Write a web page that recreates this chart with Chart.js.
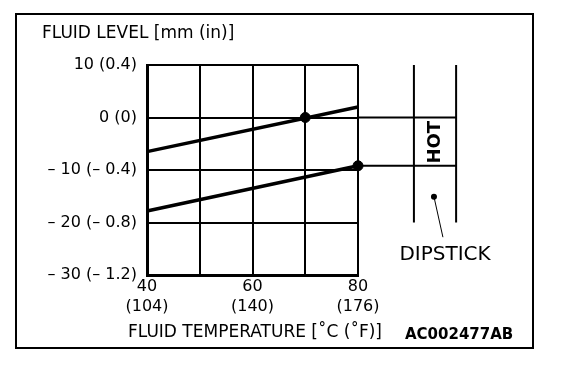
<!DOCTYPE html>
<html>

<head>
    <meta charset="utf-8">
    <title>Fluid level</title>
    <script src="https://cdn.jsdelivr.net/npm/chart.js@4.4.0/dist/chart.umd.min.js"></script>
    <style>
        body { margin: 0; background: #fff; }
    </style>
</head>

<body>
    <canvas id="myChart" width="576" height="370"></canvas>
    <script>
        // tick labels
        const tempTicksC = [40, 60, 80];
        const tempTicksF = ['(104)', '(140)', '(176)'];
        const levelTicks = [10, 0, -10, -20, -30];
        const levelTickLabels = ['10 (0.4)', '0 (0)', '\u2013 10 (\u2013 0.4)', '\u2013 20 (\u2013 0.8)', '\u2013 30 (\u2013 1.2)'];

        // upper line
        const upperTemps = [40, 80];
        const upperLevels = [-6.5, 2.0];
        // lower line
        const lowerTemps = [40, 80];
        const lowerLevels = [-17.8, -9.2];
        // marked points
        const dotTemps = [70, 80];
        const dotLevels = [0, -9.2];

        // dipstick sketch, same units as the chart (degC / mm)
        const stickX = [90.6, 98.6];
        const stickY = [10, -20];
        const hotLevels = [0, -9.2];
        const leaderX = [94.4, 96.1];
        const leaderY = [-15.1, -22.8];
        const hotLabelAt = [94.6, -4.7];
        const stickLabelAt = [96.5, -27.1];

        const FONT = 'DejaVu Sans';
        Chart.defaults.color = '#000';
        Chart.defaults.font.family = FONT;

        function seg(xs, ys) {
            return xs.map((x, i) => ({ x: x, y: ys[i] }));
        }
        function plainLine(data, w) {
            return { data: data, showLine: true, borderColor: '#000', borderWidth: w, pointRadius: 0, clip: false };
        }

        const datasets = [
            plainLine(seg(upperTemps, upperLevels), 3.5),
            plainLine(seg(lowerTemps, lowerLevels), 3.5),
            { data: seg(dotTemps, dotLevels), showLine: false, pointRadius: 5, pointBackgroundColor: '#000', pointBorderColor: '#000', clip: false }
        ];
        hotLevels.forEach(l => datasets.push(plainLine(seg([80, stickX[1]], [l, l]), 2)));
        stickX.forEach(x => datasets.push(plainLine(seg([x, x], stickY), 2)));
        datasets.push(plainLine(seg(leaderX, leaderY), 1));

        // frame, leader dot (outside the chart area, so points skip it) and free texts
        const extras = {
            id: 'extras',
            afterDraw(chart) {
                const c = chart.ctx;
                const xs = chart.scales.x, ys = chart.scales.y;
                c.save();
                c.strokeStyle = '#000';
                c.lineWidth = 2;
                c.strokeRect(16, 14, 517, 334);
                c.fillStyle = '#000';
                c.beginPath();
                c.arc(xs.getPixelForValue(leaderX[0]), ys.getPixelForValue(leaderY[0]), 3, 0, Math.PI * 2);
                c.fill();
                c.textBaseline = 'alphabetic';
                c.textAlign = 'left';
                c.font = '17px "' + FONT + '"';
                c.fillText('FLUID LEVEL [mm (in)]', 42, 38);
                c.fillText('FLUID TEMPERATURE [\u02DAC (\u02DAF)]', 128, 337);
                c.font = 'bold 15px "' + FONT + '"';
                c.fillText('AC002477AB', 405, 339);
                c.textAlign = 'center';
                c.font = '20px "' + FONT + '"';
                c.fillText('DIPSTICK', xs.getPixelForValue(stickLabelAt[0]), ys.getPixelForValue(stickLabelAt[1]));
                c.translate(xs.getPixelForValue(hotLabelAt[0]), ys.getPixelForValue(hotLabelAt[1]));
                c.rotate(-Math.PI / 2);
                c.textBaseline = 'middle';
                c.font = 'bold 18px "' + FONT + '"';
                c.fillText('HOT', 0, 0);
                c.restore();
            }
        };

        const ctx = document.getElementById('myChart');
        const myChart = new Chart(ctx, {
            type: 'scatter',
            data: { datasets: datasets },
            plugins: [extras],
            options: {
                responsive: false,
                animation: false,
                layout: { padding: { left: 0, top: 65, right: 218, bottom: 0 } },
                plugins: { legend: { display: false }, tooltip: { enabled: false } },
                scales: {
                    x: {
                        type: 'linear', min: 40, max: 80,
                        afterFit(scale) { scale.height = 95; },
                        grid: { color: '#000', lineWidth: 2, drawTicks: false },
                        border: { color: '#000', width: 3 },
                        ticks: {
                            stepSize: 10, autoSkip: false, maxRotation: 0, padding: 2,
                            font: { size: 16, lineHeight: 1.25 },
                            callback(v) {
                                const i = tempTicksC.indexOf(v);
                                return i < 0 ? '' : [String(v), tempTicksF[i]];
                            }
                        }
                    },
                    y: {
                        type: 'linear', min: -30, max: 10,
                        afterFit(scale) { scale.width = 147; },
                        grid: { color: '#000', lineWidth: 2, drawTicks: false },
                        border: { color: '#000', width: 3 },
                        ticks: {
                            stepSize: 10, padding: 10,
                            font: { size: 16 },
                            callback(v) {
                                const i = levelTicks.indexOf(v);
                                return i < 0 ? '' : levelTickLabels[i];
                            }
                        }
                    }
                }
            }
        });
    </script>
</body>

</html>
